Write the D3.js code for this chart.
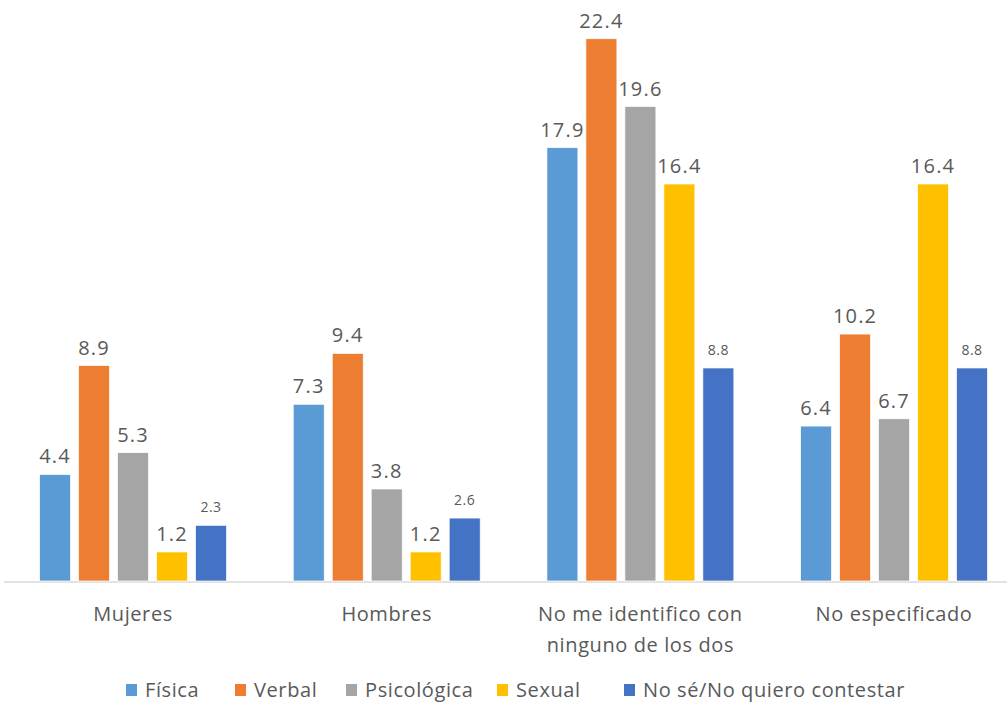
<!DOCTYPE html>
<html>
<head>
<meta charset="utf-8">
<script src="https://cdn.jsdelivr.net/npm/d3@7"></script>
<style>
  html, body { margin: 0; padding: 0; background: #fff; }
  svg { display: block; font-family: "Open Sans", "Noto Sans", sans-serif; }
</style>
</head>
<body>
<svg id="chart" width="1007" height="702"></svg>
<script>
const categories = ["Mujeres", "Hombres", "No me identifico con ninguno de los dos", "No especificado"];
const categoryLines = [["Mujeres"], ["Hombres"], ["No me identifico con", "ninguno de los dos"], ["No especificado"]];
const seriesNames = ["Física", "Verbal", "Psicológica", "Sexual", "No sé/No quiero contestar"];
const fisica = [4.4, 7.3, 17.9, 6.4];
const verbal = [8.9, 9.4, 22.4, 10.2];
const psicologica = [5.3, 3.8, 19.6, 6.7];
const sexual = [1.2, 1.2, 16.4, 16.4];
const noSe = [2.3, 2.6, 8.8, 8.8];
const colors = ["#5B9BD5", "#ED7D31", "#A5A5A5", "#FFC000", "#4472C4"];

const seriesValues = [fisica, verbal, psicologica, sexual, noSe];

const svg = d3.select("#chart");
const baseY = 581;

const y = d3.scaleLinear().domain([0, 24]).range([baseY, 0]);
const x0 = d3.scaleBand().domain(categories).range([6.2, 1020.9]).paddingInner(0.263).paddingOuter(0.1315);
const x1 = d3.scaleBand().domain(seriesNames).range([0, x0.bandwidth()]).paddingInner(8 / 39).paddingOuter(0);

const data = [];
categories.forEach((c, ci) => {
  seriesNames.forEach((s, si) => {
    data.push({ cat: c, ci, series: s, si, value: seriesValues[si][ci] });
  });
});

// axis line
svg.append("line")
  .attr("x1", 4).attr("x2", 1007)
  .attr("y1", baseY + 1).attr("y2", baseY + 1)
  .attr("stroke", "#d9d9d9").attr("stroke-width", 1.5);

const g = svg.append("g");
g.selectAll("rect.bar").data(data).enter().append("rect")
  .attr("class", "bar")
  .attr("x", d => x0(d.cat) + x1(d.series))
  .attr("width", x1.bandwidth())
  .attr("y", d => y(d.value))
  .attr("height", d => y(0) - y(d.value))
  .attr("fill", d => colors[d.si])
  .attr("stroke", "#fff").attr("stroke-width", 0.7);

// value labels (last series uses smaller font)
g.selectAll("text.val").data(data).enter().append("text")
  .attr("class", "val")
  .attr("x", d => x0(d.cat) + x1(d.series) + x1.bandwidth() / 2)
  .attr("y", d => y(d.value) - (d.si === 4 ? 13 : 11))
  .attr("text-anchor", "middle")
  .attr("fill", "#595959")
  .attr("font-size", d => d.si === 4 ? 14 : 20)
  .attr("letter-spacing", d => d.si === 4 ? 0.5 : 1.2)
  .text(d => d3.format(".1f")(d.value));

// category labels
categories.forEach((c, ci) => {
  const cx = x0(c) + x0.bandwidth() / 2;
  const t = svg.append("text")
    .attr("x", cx)
    .attr("y", 621)
    .attr("text-anchor", "middle")
    .attr("fill", "#595959")
    .attr("font-size", 20)
    .attr("letter-spacing", 0.6);
  categoryLines[ci].forEach((line, li) => {
    t.append("tspan").attr("x", cx).attr("dy", li === 0 ? 0 : 31).text(line);
  });
});

// legend
const legendX = [126, 235, 346, 497, 624];
const legend = svg.append("g");
seriesNames.forEach((s, i) => {
  legend.append("rect")
    .attr("x", legendX[i]).attr("y", 684)
    .attr("width", 11).attr("height", 12)
    .attr("fill", colors[i]);
  legend.append("text")
    .attr("x", legendX[i] + 19).attr("y", 697)
    .attr("fill", "#595959")
    .attr("font-size", 20)
    .attr("letter-spacing", 0.6)
    .text(s);
});
</script>
</body>
</html>
